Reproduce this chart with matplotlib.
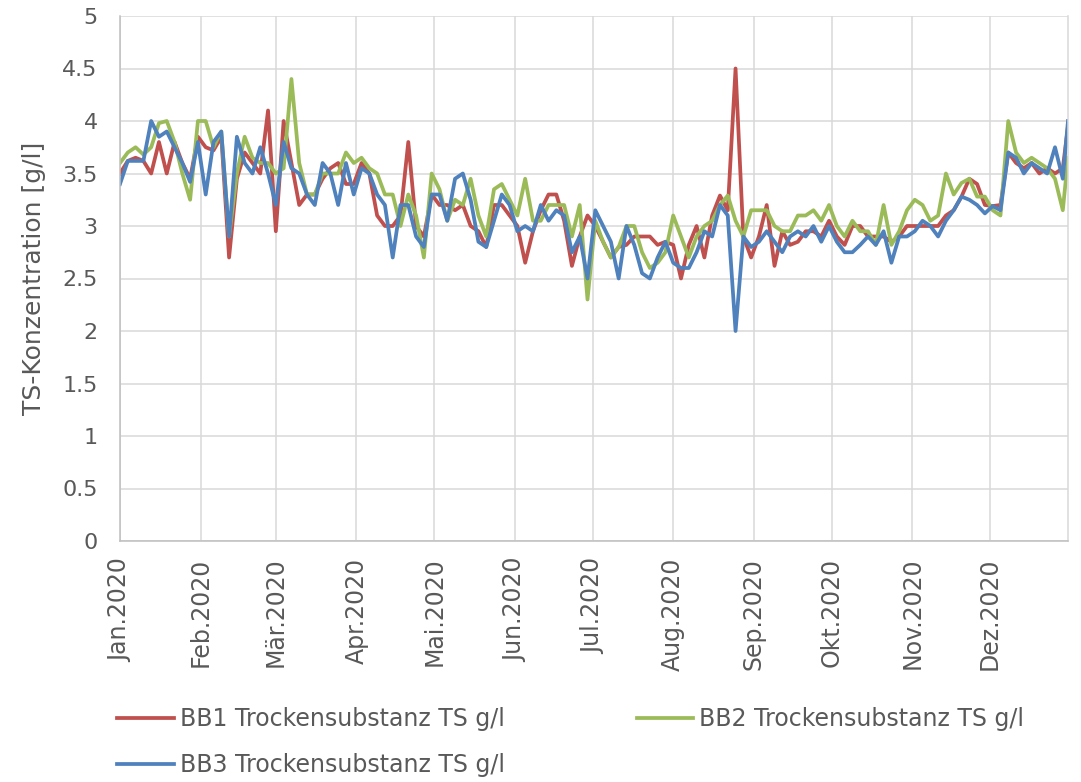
import numpy as np
import pandas as pd
import matplotlib
matplotlib.use('Agg')
import matplotlib.pyplot as plt
from matplotlib.ticker import FuncFormatter, MultipleLocator

# Sample dates: every third day of 2020 plus 31 Dec
dates = pd.date_range('2020-01-01', '2020-12-29', freq='3D').append(pd.DatetimeIndex(['2020-12-31']))

# TS values (g/l), grouped by month
bb1 = [
    3.5, 3.62, 3.65, 3.62, 3.5, 3.8, 3.5, 3.8, 3.6, 3.45, 3.85,        # Jan
    3.75, 3.72, 3.85, 2.7, 3.45, 3.7, 3.6, 3.5, 4.1,                   # Feb
    2.95, 4.0, 3.6, 3.2, 3.3, 3.3, 3.45, 3.55, 3.6, 3.4, 3.4,          # Mar
    3.6, 3.5, 3.1, 3.0, 3.0, 3.1, 3.8, 3.0, 2.9, 3.3,                  # Apr
    3.2, 3.2, 3.15, 3.2, 3.0, 2.95, 2.8, 3.2, 3.2, 3.1,                # Mai
    3.0, 2.65, 2.95, 3.15, 3.3, 3.3, 3.05, 2.62, 2.9, 3.1,             # Jun
    3.0, 2.85, 2.7, 2.8, 2.82, 2.9, 2.9, 2.9, 2.82, 2.85,              # Jul
    2.82, 2.5, 2.82, 3.0, 2.7, 3.1, 3.29, 3.15, 4.5, 2.9, 2.7,         # Aug
    2.9, 3.2, 2.62, 2.95, 2.82, 2.85, 2.95, 2.95, 2.9, 3.05,           # Sep
    2.9, 2.82, 3.0, 3.0, 2.9, 2.9, 2.9, 2.85, 2.9, 3.0,                # Okt
    3.0, 3.0, 3.0, 3.0, 3.1, 3.15, 3.28, 3.45, 3.4, 3.2,               # Nov
    3.19, 3.2, 3.7, 3.6, 3.55, 3.6, 3.5, 3.55, 3.5, 3.55, 3.95,        # Dez
]
bb2 = [
    3.6, 3.7, 3.75, 3.68, 3.75, 3.98, 4.0, 3.8, 3.5, 3.25, 4.0,
    4.0, 3.75, 3.9, 2.9, 3.5, 3.85, 3.65, 3.6, 3.6,
    3.5, 3.55, 4.4, 3.6, 3.3, 3.3, 3.5, 3.5, 3.5, 3.7, 3.6,
    3.65, 3.55, 3.5, 3.3, 3.3, 3.0, 3.3, 3.1, 2.7, 3.5,
    3.35, 3.05, 3.25, 3.2, 3.45, 3.1, 2.9, 3.35, 3.4, 3.25,
    3.1, 3.45, 3.05, 3.05, 3.2, 3.2, 3.2, 2.9, 3.2, 2.3,
    3.05, 2.85, 2.7, 2.8, 3.0, 3.0, 2.75, 2.6, 2.65, 2.75,
    3.1, 2.9, 2.7, 2.9, 3.0, 3.05, 3.2, 3.29, 3.05, 2.9, 3.15,
    3.15, 3.15, 3.0, 2.95, 2.95, 3.1, 3.1, 3.15, 3.05, 3.2,
    3.0, 2.9, 3.05, 2.95, 2.95, 2.82, 3.2, 2.82, 2.95, 3.15,
    3.25, 3.2, 3.05, 3.1, 3.5, 3.3, 3.41, 3.45, 3.28, 3.28,
    3.15, 3.1, 4.0, 3.7, 3.6, 3.65, 3.6, 3.55, 3.45, 3.15, 3.65,
]
bb3 = [
    3.4, 3.62, 3.62, 3.62, 4.0, 3.85, 3.9, 3.75, 3.6, 3.42, 3.8,
    3.3, 3.8, 3.9, 2.9, 3.85, 3.6, 3.5, 3.75, 3.5,
    3.2, 3.8, 3.55, 3.5, 3.3, 3.2, 3.6, 3.5, 3.2, 3.6, 3.3,
    3.55, 3.5, 3.3, 3.2, 2.7, 3.2, 3.2, 2.9, 2.8, 3.3,
    3.3, 3.05, 3.45, 3.5, 3.25, 2.85, 2.8, 3.05, 3.3, 3.2,
    2.95, 3.0, 2.95, 3.2, 3.05, 3.15, 3.1, 2.75, 2.9, 2.5,
    3.15, 3.0, 2.85, 2.5, 3.0, 2.82, 2.55, 2.5, 2.7, 2.85,
    2.65, 2.6, 2.6, 2.75, 2.95, 2.9, 3.2, 3.1, 2.0, 2.9, 2.8,
    2.85, 2.95, 2.85, 2.75, 2.9, 2.95, 2.9, 3.0, 2.85, 3.0,
    2.85, 2.75, 2.75, 2.82, 2.9, 2.82, 2.95, 2.65, 2.9, 2.9,
    2.95, 3.05, 3.0, 2.9, 3.05, 3.15, 3.28, 3.25, 3.2, 3.12,
    3.19, 3.15, 3.7, 3.65, 3.5, 3.6, 3.55, 3.5, 3.75, 3.45, 4.0,
]

month_labels = ['Jan.2020', 'Feb.2020', 'Mär.2020', 'Apr.2020', 'Mai.2020', 'Jun.2020',
                'Jul.2020', 'Aug.2020', 'Sep.2020', 'Okt.2020', 'Nov.2020', 'Dez.2020']
series_names = ['BB1 Trockensubstanz TS g/l', 'BB2 Trockensubstanz TS g/l', 'BB3 Trockensubstanz TS g/l']
colors = ['#C0504D', '#9BBB59', '#4F81BD']

text_col = '#595959'
grid_col = '#D9D9D9'

fig = plt.figure(figsize=(10.81, 7.82), dpi=100)
ax = fig.add_axes([120 / 1081, 1 - 541 / 782, (1068 - 120) / 1081, (541 - 16) / 782])

lines = []
for vals, name, c in zip([bb1, bb2, bb3], series_names, colors):
    ln, = ax.plot(dates, vals, color=c, lw=2.7, label=name, solid_joinstyle='round')
    lines.append(ln)

ax.set_ylim(0, 5)
ax.set_xlim(pd.Timestamp('2020-01-01'), pd.Timestamp('2020-12-31'))
ax.yaxis.set_major_locator(MultipleLocator(0.5))
ax.yaxis.set_major_formatter(FuncFormatter(lambda v, p: '%g' % v))

month_starts = pd.date_range('2020-01-01', '2020-12-01', freq='MS')
ax.set_xticks(month_starts)
ax.set_xticklabels(month_labels, rotation=90, va='top', ha='center')

ax.grid(True, color=grid_col, lw=1.1)
ax.set_axisbelow(True)
ax.tick_params(length=0, labelsize=16, labelcolor=text_col)
ax.tick_params(axis='y', pad=16)
ax.tick_params(axis='x', pad=12, labelsize=17)

ax.spines['top'].set_visible(False)
ax.spines['right'].set_color(grid_col)
ax.spines['right'].set_linewidth(1.1)
for side in ['left', 'bottom']:
    ax.spines[side].set_color('#BFBFBF')
    ax.spines[side].set_linewidth(1.1)

ax.set_ylabel('TS-Konzentration [g/l]', fontsize=18, color=text_col, labelpad=12)

# legend: column-wise fill -> BB1, BB3 in first column, BB2 in second
fig.legend([lines[0], lines[2], lines[1]], [series_names[0], series_names[2], series_names[1]],
           loc='upper left', bbox_to_anchor=(117 / 1081, 1 - 707 / 782), ncol=2,
           frameon=False, fontsize=17, labelcolor=text_col, handlelength=2.4,
           handletextpad=0.25, columnspacing=5.6, labelspacing=0.95,
           borderpad=0, borderaxespad=0)

fig.savefig('out.png', dpi=100)
